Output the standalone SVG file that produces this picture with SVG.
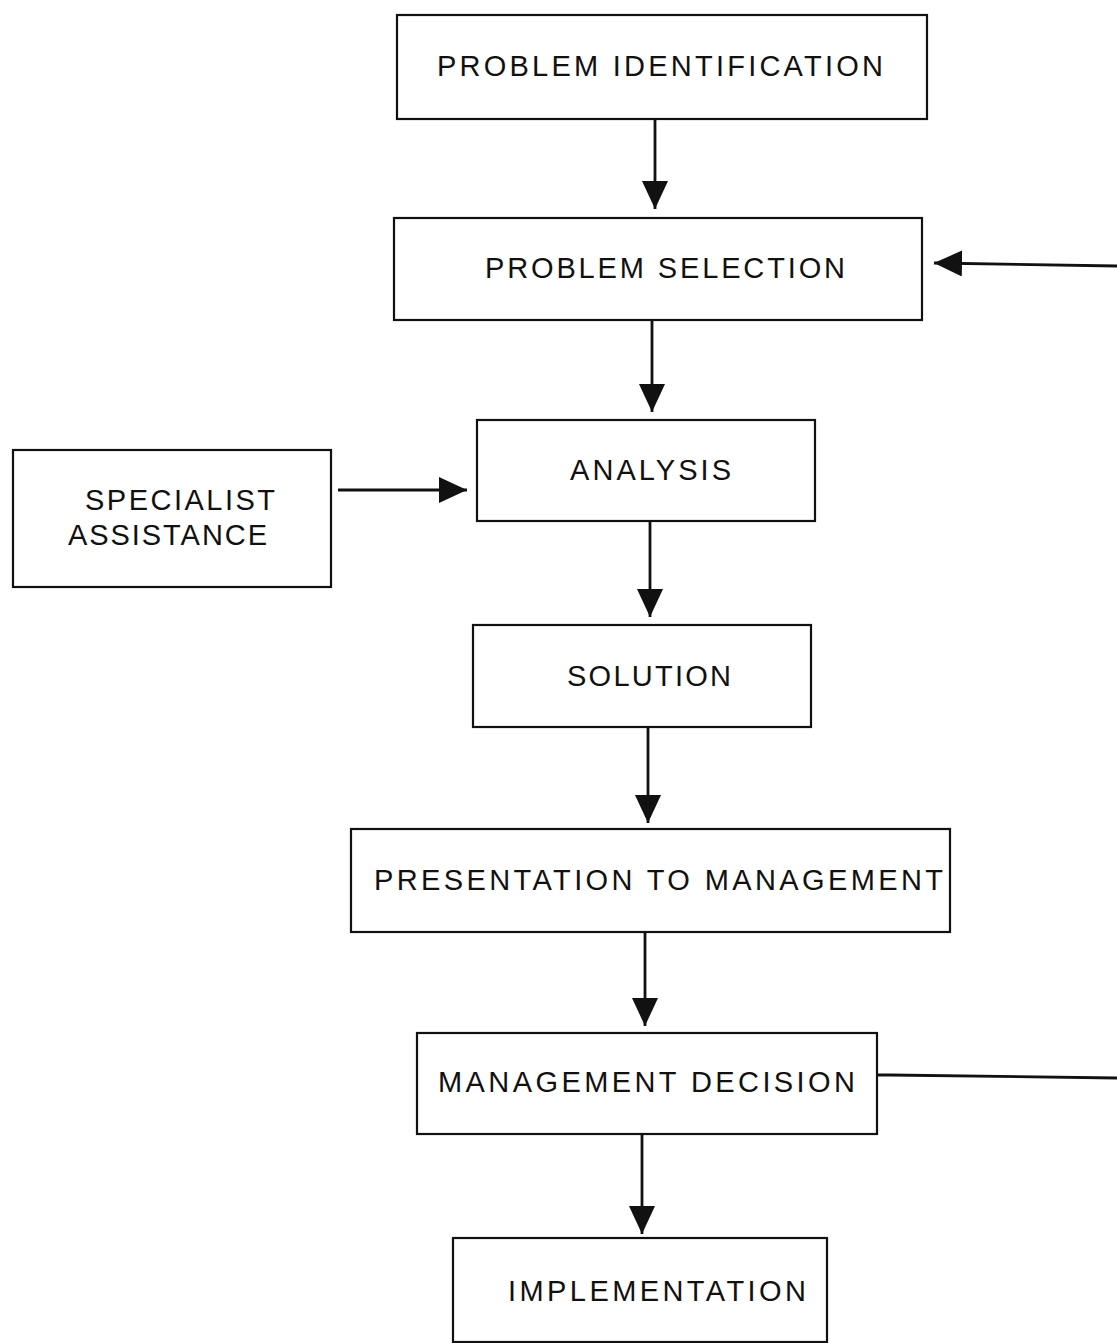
<svg xmlns="http://www.w3.org/2000/svg" width="1117" height="1343" viewBox="0 0 1117 1343">
  <defs>
    <style>
      .box { fill: #fff; stroke: #111; stroke-width: 2.2; }
      .lbl { font-family: "Liberation Sans", "DejaVu Sans", sans-serif; font-size: 29px; fill: #111; }
      .wire { stroke: #111; stroke-width: 2.8; fill: none; }
    </style>
    <marker id="head" viewBox="0 0 28 26" refX="28" refY="13" markerWidth="28" markerHeight="26" markerUnits="userSpaceOnUse" orient="auto">
      <path d="M0,0 L28,13 L0,26 Z" fill="#111"/>
    </marker>
  </defs>
  <rect width="1117" height="1343" fill="#fff"/>

  <g id="connectors">
    <line class="wire" x1="655" y1="119" x2="655" y2="209" marker-end="url(#head)"/>
    <line class="wire" x1="652" y1="320" x2="652" y2="412" marker-end="url(#head)"/>
    <line class="wire" x1="650" y1="521" x2="650" y2="617" marker-end="url(#head)"/>
    <line class="wire" x1="648" y1="727" x2="648" y2="823" marker-end="url(#head)"/>
    <line class="wire" x1="645" y1="932" x2="645" y2="1026" marker-end="url(#head)"/>
    <line class="wire" x1="642" y1="1134" x2="642" y2="1234" marker-end="url(#head)"/>
    <line class="wire" x1="338" y1="490" x2="467" y2="490" marker-end="url(#head)"/>
    <line class="wire" x1="1117" y1="266" x2="934" y2="263" marker-end="url(#head)"/>
    <polyline class="wire" points="877,1075 890,1075 1117,1078"/>
  </g>

  <g id="problem-identification">
    <rect class="box" x="397" y="15" width="530" height="104"/>
    <text class="lbl" x="437" y="76" textLength="446" lengthAdjust="spacing">PROBLEM IDENTIFICATION</text>
  </g>
  <g id="problem-selection">
    <rect class="box" x="394" y="218" width="528" height="102"/>
    <text class="lbl" x="485" y="278" textLength="360" lengthAdjust="spacing">PROBLEM SELECTION</text>
  </g>
  <g id="specialist-assistance">
    <rect class="box" x="13" y="450" width="318" height="137"/>
    <text class="lbl" x="85" y="510" textLength="190" lengthAdjust="spacing">SPECIALIST</text>
    <text class="lbl" x="68" y="545" textLength="199" lengthAdjust="spacing">ASSISTANCE</text>
  </g>
  <g id="analysis">
    <rect class="box" x="477" y="420" width="338" height="101"/>
    <text class="lbl" x="570" y="480" textLength="161" lengthAdjust="spacing">ANALYSIS</text>
  </g>
  <g id="solution">
    <rect class="box" x="473" y="625" width="338" height="102"/>
    <text class="lbl" x="567" y="686" textLength="164" lengthAdjust="spacing">SOLUTION</text>
  </g>
  <g id="presentation">
    <rect class="box" x="351" y="829" width="599" height="103"/>
    <text class="lbl" x="374" y="890" textLength="569" lengthAdjust="spacing">PRESENTATION TO MANAGEMENT</text>
  </g>
  <g id="management-decision">
    <rect class="box" x="417" y="1033" width="460" height="101"/>
    <text class="lbl" x="438" y="1092" textLength="417" lengthAdjust="spacing">MANAGEMENT DECISION</text>
  </g>
  <g id="implementation">
    <rect class="box" x="453" y="1238" width="374" height="104"/>
    <text class="lbl" x="508" y="1301" textLength="298" lengthAdjust="spacing">IMPLEMENTATION</text>
  </g>
</svg>
